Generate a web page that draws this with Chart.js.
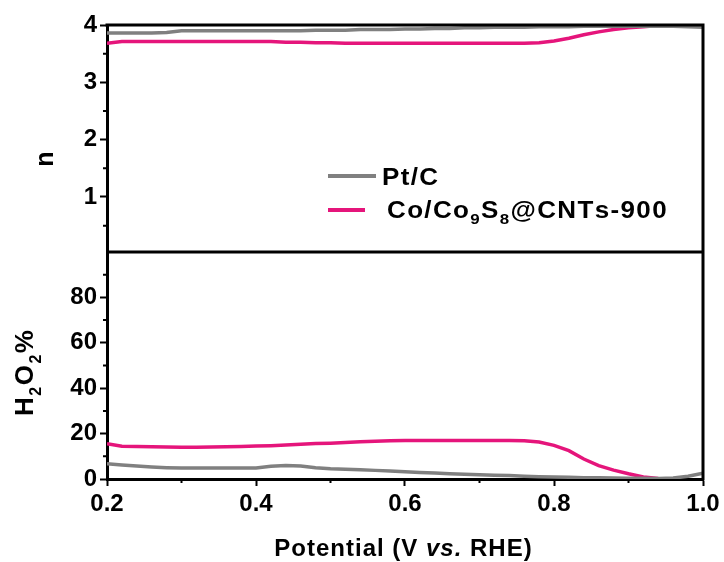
<!DOCTYPE html>
<html><head><meta charset="utf-8">
<script src="https://cdn.jsdelivr.net/npm/chart.js@4"></script>
<style>html,body{margin:0;padding:0;background:#fff;}#wrap{width:724px;height:562px;position:relative;}</style>
</head><body><div id="wrap"><canvas id="c" width="724" height="562"></canvas></div>
<script>
const potential = [0.20,0.22,0.24,0.26,0.28,0.30,0.32,0.34,0.36,0.38,0.40,0.42,0.44,0.46,0.48,0.50,0.52,0.54,0.56,0.58,0.60,0.62,0.64,0.66,0.68,0.70,0.72,0.74,0.76,0.78,0.80,0.82,0.84,0.86,0.88,0.90,0.92,0.94,0.96,0.98,1.00];
const nPtC = [3.86,3.86,3.86,3.86,3.87,3.90,3.90,3.90,3.90,3.90,3.90,3.90,3.90,3.90,3.91,3.91,3.91,3.92,3.92,3.92,3.93,3.93,3.94,3.94,3.95,3.95,3.96,3.96,3.96,3.97,3.97,3.97,3.98,3.98,3.98,3.98,3.98,3.98,3.98,3.97,3.96];
const nCo = [3.68,3.71,3.71,3.71,3.71,3.71,3.71,3.71,3.71,3.71,3.71,3.71,3.70,3.70,3.69,3.69,3.68,3.68,3.68,3.68,3.68,3.68,3.68,3.68,3.68,3.68,3.68,3.68,3.68,3.69,3.72,3.77,3.83,3.88,3.92,3.95,3.97,3.99,4.00,4.00,4.00];
const h2o2PtC = [6.7,6.2,5.7,5.3,5.0,4.8,4.8,4.8,4.8,4.8,4.9,5.6,6.0,5.7,5.0,4.5,4.3,4.1,3.8,3.5,3.2,2.9,2.6,2.3,2.1,1.9,1.7,1.5,1.2,1.0,0.9,0.8,0.6,0.5,0.4,0.3,0.3,0.2,0.4,1.2,2.6];
const h2o2Co = [15.5,14.4,14.3,14.2,14.1,14.0,14.0,14.1,14.2,14.3,14.5,14.7,15.0,15.3,15.6,15.8,16.1,16.4,16.6,16.8,17.0,17.0,17.0,17.0,17.0,17.0,17.0,17.0,16.8,16.3,14.8,12.5,8.8,5.9,3.9,2.3,0.9,0.2,0.0,null,null];
const xTicks = [0.2,0.4,0.6,0.8,1.0];
const xMinor = [0.3,0.5,0.7,0.9];
const nTicks = [1,2,3,4];
const nMinor = [0.5,1.5,2.5,3.5];
const hTicks = [0,20,40,60,80];
const hMinor = [10,30,50,70,90];
const seriesNames = ['Pt/C','Co/Co9S8@CNTs-900'];

const GRAY = '#808080', PINK = '#E5157B';
const FAM = '"Liberation Sans", Arial, sans-serif';
const pts = arr => potential.map((x,i)=>({x, y: arr[i]}));

function drawRich(ctx, parts, x, y, opt) {
  const setFont = p => { ctx.font = (p.it ? 'italic ' : '') + 'bold ' + (p.sub ? opt.subSize : opt.size) + 'px ' + FAM; };
  let w = 0;
  parts.forEach(p => { setFont(p); for (const ch of p.t) w += ctx.measureText(ch).width + opt.ls; });
  w -= opt.ls;
  ctx.save();
  ctx.translate(x, y);
  ctx.scale(opt.sx, 1);
  let cx = opt.align === 'center' ? -w/2 : 0;
  ctx.textBaseline = 'alphabetic';
  ctx.textAlign = 'left';
  ctx.fillStyle = '#000';
  parts.forEach(p => { setFont(p); for (const ch of p.t) { ctx.fillText(ch, cx, p.sub ? opt.subShift : 0); cx += ctx.measureText(ch).width + opt.ls; } });
  ctx.restore();
}

const decor = {
  id: 'decor',
  afterDraw(chart) {
    const ctx = chart.ctx, a = chart.chartArea, s = chart.scales;
    ctx.save();
    ctx.strokeStyle = '#000';
    ctx.lineWidth = 3;
    ctx.beginPath();
    ctx.moveTo(a.left - 1.5, a.top); ctx.lineTo(a.right + 1.5, a.top);
    ctx.moveTo(a.right, a.top); ctx.lineTo(a.right, a.bottom + 1.5);
    const dy = Math.min(s.yN.bottom, s.yH.bottom);
    ctx.moveTo(a.left, dy); ctx.lineTo(a.right, dy);
    ctx.stroke();
    ctx.lineWidth = 2;
    ctx.beginPath();
    xMinor.forEach(v => { const px = s.x.getPixelForValue(v); ctx.moveTo(px, a.bottom); ctx.lineTo(px, a.bottom + 4); });
    nMinor.forEach(v => { const py = s.yN.getPixelForValue(v); ctx.moveTo(a.left, py); ctx.lineTo(a.left - 4, py); });
    hMinor.forEach(v => { const py = s.yH.getPixelForValue(v); ctx.moveTo(a.left, py); ctx.lineTo(a.left - 4, py); });
    ctx.stroke();
    ctx.lineWidth = 4;
    ctx.strokeStyle = GRAY;
    ctx.beginPath(); ctx.moveTo(328, 176); ctx.lineTo(376, 176); ctx.stroke();
    ctx.strokeStyle = PINK;
    ctx.beginPath(); ctx.moveTo(328, 210); ctx.lineTo(365, 210); ctx.stroke();
    const lo = {size: 23, subSize: 15, subShift: 6, ls: 1.2, sx: 1.13, align: 'left'};
    drawRich(ctx, [{t: seriesNames[0]}], 382, 185, lo);
    drawRich(ctx, [{t:'Co/Co'},{t:'9',sub:1},{t:'S'},{t:'8',sub:1},{t:'@CNTs-900'}], 387, 218, lo);
    drawRich(ctx, [{t:'Potential (V '},{t:'vs.',it:1},{t:' RHE)'}], 403, 556, {size:24, subSize:15, subShift:6, ls:1, sx:1, align:'center'});
    ctx.save(); ctx.translate(53, 159); ctx.rotate(-Math.PI/2);
    drawRich(ctx, [{t:'n'}], 0, 0, {size:25, subSize:15, subShift:6, ls:0, sx:1, align:'center'});
    ctx.restore();
    ctx.save(); ctx.translate(33, 373); ctx.rotate(-Math.PI/2);
    drawRich(ctx, [{t:'H'},{t:'2',sub:1},{t:'O'},{t:'2',sub:1},{t:'%'}], 0, 0, {size:26, subSize:16, subShift:8, ls:1.5, sx:1, align:'center'});
    ctx.restore();
    ctx.restore();
  }
};

const tickFont = {family: FAM, size: 24, weight: 'bold'};
const gridOpt = {drawOnChartArea: false, drawTicks: true, tickLength: 7, tickWidth: 2, tickColor: '#000'};
const borderOpt = {display: true, color: '#000', width: 3};

new Chart(document.getElementById('c'), {
  type: 'line',
  data: {
    datasets: [
      {label: seriesNames[0], data: pts(nPtC), yAxisID: 'yN', borderColor: GRAY},
      {label: seriesNames[1], data: pts(nCo), yAxisID: 'yN', borderColor: PINK},
      {label: seriesNames[0], data: pts(h2o2PtC), yAxisID: 'yH', borderColor: GRAY},
      {label: seriesNames[1], data: pts(h2o2Co), yAxisID: 'yH', borderColor: PINK}
    ]
  },
  options: {
    responsive: false, animation: false, devicePixelRatio: 1,
    layout: {padding: {left: 0, top: 25, right: 21, bottom: 0}},
    elements: {point: {radius: 0}, line: {borderWidth: 3.5, tension: 0}},
    spanGaps: false,
    plugins: {legend: {display: false}, tooltip: {enabled: false}},
    scales: {
      x: {type: 'linear', position: 'bottom', min: 0.2, max: 1.0,
        afterBuildTicks: sc => { sc.ticks = xTicks.map(v => ({value: v})); },
        afterFit: sc => { sc.height = 83; },
        ticks: {font: tickFont, color: '#000', padding: 4, maxRotation: 0, autoSkip: false, callback: v => Number(v).toFixed(1)},
        grid: gridOpt, border: borderOpt},
      yH: {type: 'linear', position: 'left', stack: 'v', stackWeight: 1, min: 0, max: 100,
        afterBuildTicks: sc => { sc.ticks = hTicks.map(v => ({value: v})); },
        afterFit: sc => { sc.width = 107; },
        ticks: {font: tickFont, color: '#000', padding: 3},
        grid: gridOpt, border: borderOpt},
      yN: {type: 'linear', position: 'left', stack: 'v', stackWeight: 1, min: 0.04, max: 4,
        afterBuildTicks: sc => { sc.ticks = nTicks.map(v => ({value: v})); },
        afterFit: sc => { sc.width = 107; },
        ticks: {font: tickFont, color: '#000', padding: 3},
        grid: gridOpt, border: borderOpt}
    }
  },
  plugins: [decor]
});
</script></body></html>
